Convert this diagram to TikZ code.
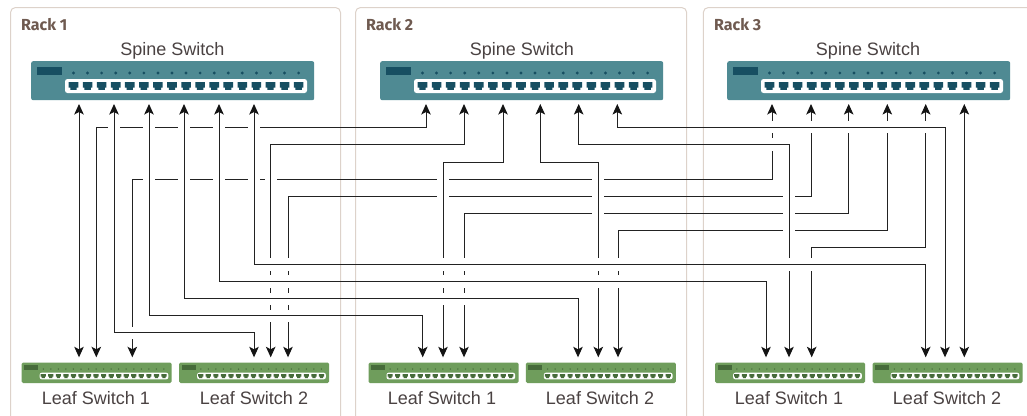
\documentclass[tikz,border=0pt]{standalone}
\usepackage{fontspec}
\setmainfont{Liberation Sans}
\newfontfamily\rackfont{Fira Sans}[UprightFont=* Bold]
\usetikzlibrary{arrows.meta}
\definecolor{frameC}{HTML}{DDD2CA}
\definecolor{rackC}{HTML}{6F5A50}
\definecolor{textC}{HTML}{4A4242}
\definecolor{spineC}{HTML}{4F8A93}
\definecolor{spineD}{HTML}{174F62}
\definecolor{leafC}{HTML}{6F9D5C}
\definecolor{leafD}{HTML}{466B3A}
\definecolor{wireC}{HTML}{222222}
\tikzset{
  x=1pt,y=-1pt,
  rackframe/.style={draw=frameC,line width=1pt,rounded corners=5pt},
  racklabel/.style={anchor=base west,inner sep=0,text=rackC,font=\rackfont\fontsize{16}{16}\selectfont},
  devlabel/.style={anchor=base,inner sep=0,text=textC,font=\fontsize{18}{18}\selectfont},
  spinebox/.style={fill=spineC,rounded corners=2pt,inner sep=0,anchor=north west,minimum width=283pt,minimum height=39pt},
  leafbox/.style={fill=leafC,rounded corners=1.5pt,inner sep=0,anchor=north west,minimum width=150pt,minimum height=20.5pt},
  wire/.style={draw=wireC,line width=1pt,{Stealth[length=10.5pt,width=9.5pt,inset=2.5pt,color=black!92]}-{Stealth[length=10.5pt,width=9.5pt,inset=2.5pt,color=black!92]}},
  gappatch/.style={draw=white,line width=3pt}
}
% spine switch drawing at top-left corner
\newcommand\spinesw[3]{% name, x, y
  \node[spinebox] (#1) at (#2,#3) {};
  \begin{scope}[shift={(#2,#3)}]
    \fill[spineD] (6,6) rectangle (31,14);
    \fill[white,rounded corners=2.5pt] (34,18) rectangle (276,32);
    \foreach \i in {0,...,16}{
      \pgfmathsetmacro\px{42.5+14.07*\i}
      \fill[spineD] (\px,12) circle (1.6pt);
      \begin{scope}[shift={(\px,25)}]
        \fill[spineD] (-4.8,-3.8) -- (4.8,-3.8) -- (4.8,1.6) -- (3.2,1.6) -- (3.2,3.8) -- (-3.2,3.8) -- (-3.2,1.6) -- (-4.8,1.6) -- cycle;
      \end{scope}
    }
  \end{scope}
}
\newcommand\leafsw[3]{% name, x, y
  \node[leafbox] (#1) at (#2,#3) {};
  \begin{scope}[shift={(#2,#3)}]
    \fill[leafD] (2.5,2.7) rectangle (16.5,7.7);
    \fill[white,rounded corners=2pt] (18.2,10.4) rectangle (146.8,17);
    \foreach \i in {0,...,16}{
      \pgfmathsetmacro\px{21.8+7.54*\i}
      \fill[leafD] (\px,6.7) circle (0.75pt);
      \begin{scope}[shift={(\px,13.7)}]
        \fill[leafD] (-2.6,-2) -- (2.6,-2) -- (2.6,0.7) -- (1.6,0.7) -- (1.6,2.1) -- (-1.6,2.1) -- (-1.6,0.7) -- (-2.6,0.7) -- cycle;
      \end{scope}
    }
  \end{scope}
}
\newcommand\wirepath[3]{\draw[wire] (#1) -- (#1 |- #2) -- (#3 |- #2) -- (#3);}
\newcommand\gapv[2]{\draw[gappatch] (#1,#2-6.3) -- (#1,#2+6.3);}
\newcommand\gaph[2]{\draw[gappatch] (#1-6,#2) -- (#1+6,#2);}
\begin{document}
\begin{tikzpicture}
\useasboundingbox (0,0) rectangle (1027,415);
\clip (0,0) rectangle (1027,415);
\fill[white] (0,0) rectangle (1027,415);
% rack frames
\draw[rackframe] (10.5,416) -- (10.5,7.5) -- (340.5,7.5) -- (340.5,416);
\draw[rackframe] (355.5,416) -- (355.5,7.5) -- (686.7,7.5) -- (686.7,416);
\draw[rackframe] (703.3,416) -- (703.3,7.5) -- (1030,7.5);
\node[racklabel] (rack1) at (21,30) {Rack 1};
\node[racklabel] (rack2) at (366,30) {Rack 2};
\node[racklabel] (rack3) at (714,30) {Rack 3};
% devices
\spinesw{spineA}{31}{61}
\spinesw{spineB}{380}{61}
\spinesw{spineC}{727}{61}
\leafsw{leafAa}{21.5}{362.3}
\leafsw{leafAb}{179}{362.3}
\leafsw{leafBa}{368.3}{362.3}
\leafsw{leafBb}{525.7}{362.3}
\leafsw{leafCa}{715}{362.3}
\leafsw{leafCb}{872.5}{362.3}
\node[devlabel] (spineAt) at (172.5,55) {Spine Switch};
\node[devlabel] (spineBt) at (522,55) {Spine Switch};
\node[devlabel] (spineCt) at (868,55) {Spine Switch};
\node[devlabel] (leafAat) at (96,404) {Leaf Switch 1};
\node[devlabel] (leafAbt) at (254,404) {Leaf Switch 2};
\node[devlabel] (leafBat) at (442,404) {Leaf Switch 1};
\node[devlabel] (leafBbt) at (600,404) {Leaf Switch 2};
\node[devlabel] (leafCat) at (789,404) {Leaf Switch 1};
\node[devlabel] (leafCbt) at (947,404) {Leaf Switch 2};
% port coordinates: spine (tip y=104)
\foreach \n/\x in {sAa/79,sAb/114,sAc/149,sAd/184,sAe/219,sAf/254,
  sBa/426,sBb/464,sBc/503,sBd/540.3,sBe/578.7,sBf/617.3,
  sCa/772,sCb/811,sCc/848.7,sCd/887.3,sCe/925.7,sCf/964.3}
  {\coordinate (\n) at (\x,104);}
% port coordinates: leaf (tip y=357.3)
\foreach \n/\x in {lAaa/79,lAab/96.3,lAac/132.3,lAba/254,lAbb/270.7,lAbc/288,
  lBaa/422.7,lBab/443,lBac/464,lBba/578,lBbb/598.3,lBbc/618,
  lCaa/766,lCab/789,lCac/811.7,lCba/925.7,lCbb/945,lCbc/964.3}
  {\coordinate (\n) at (\x,357.3);}
% bus levels
\foreach \n/\y in {ya/127,yb/144.5,yc/162,yd/179,ye/196.2,yf/213.3,yg/230.5,yh/247.4,yi/264.7,yj/281.7,yk/298.8,yl/315.8,ym/332.8}
  {\coordinate (\n) at (0,\y);}
% layer 1
\wirepath{lAab}{ya}{sBa}
\wirepath{lAac}{yd}{sCa}
\foreach \x in {114,149,184,219,254}{\gaph{\x}{127}}
\foreach \x in {149,184,219,254,270.7,443,598.3}{\gaph{\x}{179}}
\gapv{132.3}{332.8}
\gapv{772}{127}
\gapv{772}{144.5}
% layer 2
\wirepath{lAbc}{ye}{sCb}
\wirepath{lBac}{yf}{sCc}
\wirepath{lBbc}{yg}{sCd}
\wirepath{lCac}{yh}{sCe}
\foreach \y in {264.7,281.7,298.8,315.8}{\gapv{288}{\y}}
\foreach \x in {443,598.3,789}{\gaph{\x}{196.2}}
\gapv{811}{127}
\foreach \y in {264.7,281.7,298.8}{\gapv{464}{\y}}
\foreach \x in {598.3,789}{\gaph{\x}{213.3}}
\gapv{848.7}{127}
\foreach \y in {264.7,281.7}{\gapv{618}{\y}}
\gaph{789}{230.5}
\gapv{887.3}{127}
\gapv{811.7}{264.7}
\gapv{925.7}{127}
% layer 3
\wirepath{lAbb}{yb}{sBb}
\wirepath{lBab}{yc}{sBc}
\wirepath{lBbb}{yc}{sBd}
\wirepath{lCab}{yb}{sBe}
\wirepath{lCbb}{ya}{sBf}
\foreach \y in {264.7,281.7,298.8,315.8}{\gapv{270.7}{\y}}
\foreach \y in {264.7,281.7,298.8}{\gapv{443}{\y}}
\foreach \y in {264.7,281.7}{\gapv{598.3}{\y}}
\gapv{789}{264.7}
% layer 4
\draw[wire] (sAa) -- (lAaa);
\draw[wire] (sCf) -- (lCbc);
\wirepath{sAb}{ym}{lAba}
\wirepath{sAc}{yl}{lBaa}
\wirepath{sAd}{yk}{lBba}
\wirepath{sAe}{yj}{lCaa}
\wirepath{sAf}{yi}{lCba}
\end{tikzpicture}
\end{document}
